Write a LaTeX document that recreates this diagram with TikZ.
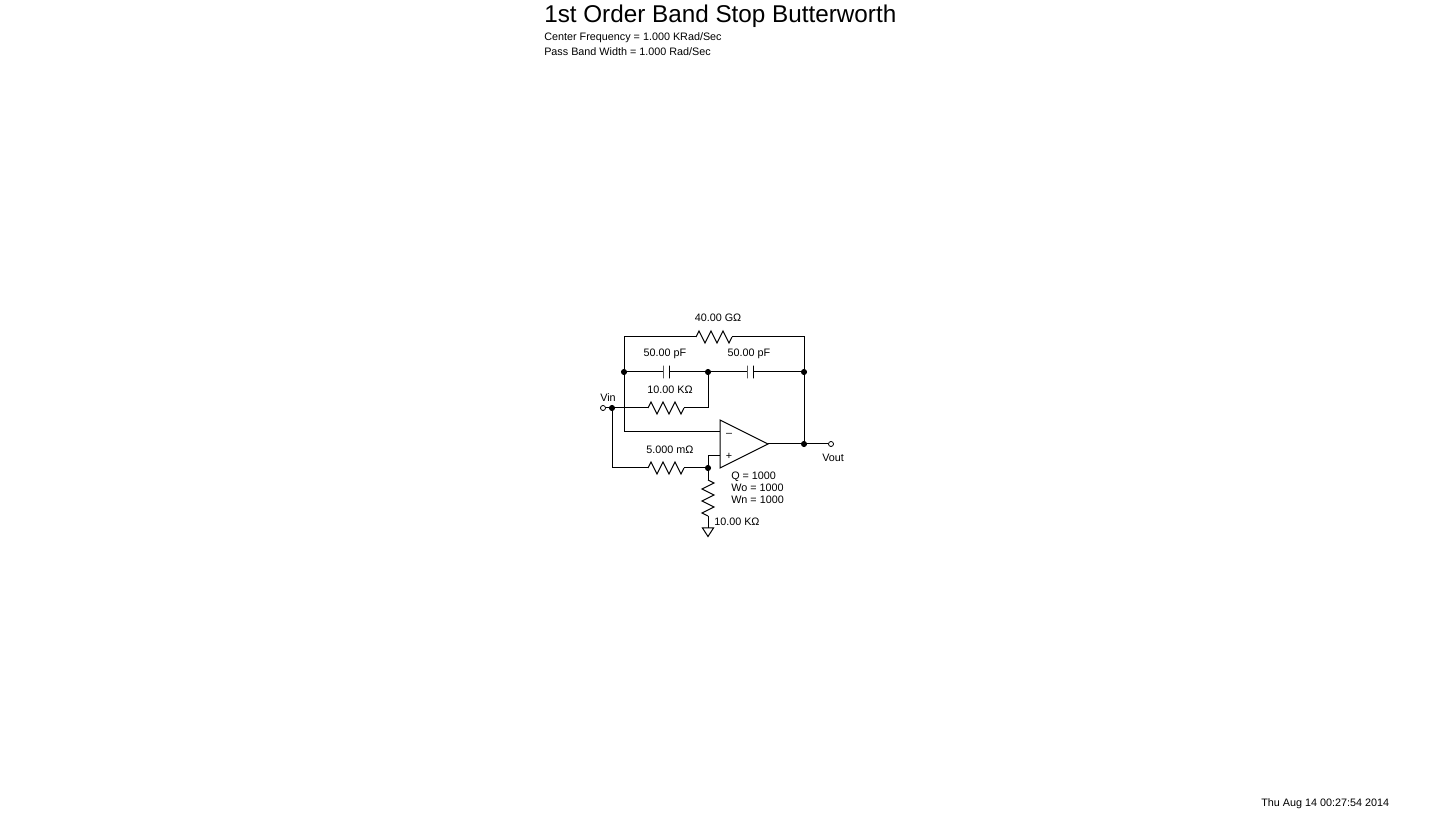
\documentclass[tikz,border=0pt]{standalone}
\usepackage{fontspec}
\setmainfont{Liberation Sans}
\usetikzlibrary{decorations.pathmorphing}
\tikzset{
    wire/.style={line width=0.75pt, line join=miter},
    resistor/.style={wire, decorate, decoration={zigzag, amplitude=4.5pt, segment length=9pt, pre length=0pt, post length=0pt}},
    junction/.style={circle, fill=black, inner sep=0pt, minimum size=4.6pt},
    terminal/.style={circle, draw, fill=white, line width=0.6pt, inner sep=0pt, minimum size=3.8pt},
    plate/.style={draw, line width=0.75pt, inner sep=0pt, outer sep=0pt, minimum width=0pt, minimum height=9.4pt},
    small/.style={inner sep=0pt, font=\fontsize{8.1pt}{10pt}\selectfont},
    smallleft/.style={small, anchor=west},
    heading/.style={inner sep=0pt, anchor=west, font=\fontsize{18.2pt}{20pt}\selectfont}
}
\begin{document}
\begin{tikzpicture}[x=0.75pt,y=-0.75pt]
    \useasboundingbox (0,0) rectangle (1440,816);

    \node[heading] (title) at (544,16) {1st Order Band Stop Butterworth};
    \node[smallleft] (center) at (544,38) {Center Frequency = 1.000 KRad/Sec};
    \node[smallleft] (passband) at (544,52) {Pass Band Width = 1.000 Rad/Sec};
    \node[smallleft] (stamp) at (1261,804) {Thu Aug 14 00:27:54 2014};

    \node[junction] (nleft) at (624,372) {};
    \node[junction] (nmid) at (708,372) {};
    \node[junction] (nright) at (804,372) {};
    \node[junction] (nin) at (612,408) {};
    \node[junction] (nplus) at (708,468) {};
    \node[junction] (nout) at (804,444) {};
    \node[terminal] (vin) at (603,408) {};
    \node[terminal] (vout) at (831,444) {};

    \coordinate (topleft) at (624,337);
    \coordinate (topright) at (804,337);
    \coordinate (rfbL) at (696,337);
    \coordinate (rfbR) at (732,337);
    \coordinate (rinL) at (648,408);
    \coordinate (rinR) at (684,408);
    \coordinate (rinend) at (708,408);
    \coordinate (rposL) at (648,468);
    \coordinate (rposR) at (684,468);
    \coordinate (lowleft) at (612,468);
    \coordinate (rgndT) at (708,480);
    \coordinate (rgndB) at (708,516);
    \coordinate (gnd) at (708,528);
    \coordinate (gndL) at (702.5,528);
    \coordinate (gndR) at (713.5,528);
    \coordinate (gndT) at (708,536.5);
    \coordinate (oaTop) at (720,420);
    \coordinate (oaBot) at (720,468);
    \coordinate (oaOut) at (768,444);
    \coordinate (oaMinus) at (720,432);
    \coordinate (oaPlus) at (720,456);
    \coordinate (minusL) at (624,432);
    \coordinate (plusL) at (708,456);

    \node[plate] (capAL) at (663,372) {};
    \node[plate] (capAR) at (669.5,372) {};
    \node[plate] (capBL) at (747,372) {};
    \node[plate] (capBR) at (753.5,372) {};

    \draw[wire] (rfbL) -- (topleft) -- (minusL) -- (oaMinus);
    \draw[resistor] (rfbL) -- (rfbR);
    \draw[wire] (rfbR) -- (topright) -- (nout);
    \draw[wire] (nleft) -- (capAL);
    \draw[wire] (capAR) -- (nmid) -- (capBL);
    \draw[wire] (capBR) -- (nright);
    \draw[wire] (vin) -- (rinL);
    \draw[resistor] (rinL) -- (rinR);
    \draw[wire] (rinR) -- (rinend) -- (nmid);
    \draw[wire] (nin) -- (lowleft) -- (rposL);
    \draw[resistor] (rposL) -- (rposR);
    \draw[wire] (rposR) -- (nplus);
    \draw[wire] (oaPlus) -- (plusL) -- (nplus) -- (rgndT);
    \draw[resistor] (rgndT) -- (rgndB);
    \draw[wire] (rgndB) -- (gnd);
    \draw[wire] (gndL) -- (gndR) -- (gndT) -- cycle;
    \draw[wire] (oaTop) -- (oaOut) -- (oaBot) -- cycle;
    \draw[wire] (oaOut) -- (vout);

    \node[small] (lblrfb) at (718,318) {40.00 GΩ};
    \node[small] (lblcapA) at (665,354) {50.00 pF};
    \node[small] (lblcapB) at (749,354) {50.00 pF};
    \node[small] (lblrin) at (670,390) {10.00 KΩ};
    \node[small] (lblrpos) at (670,450) {5.000 mΩ};
    \node[smallleft] (lblrgnd) at (714,522) {10.00 KΩ};
    \node[smallleft] (lblvin) at (600,398) {Vin};
    \node[smallleft] (lblvout) at (822,458) {Vout};
    \node[small] (oaminus) at (729,435) {–};
    \node[small] (oaplus) at (729,456) {+};
    \node[smallleft] (lblq) at (731,477) {Q = 1000};
    \node[smallleft] (lblwo) at (731,488) {Wo = 1000};
    \node[smallleft] (lblwn) at (731,500) {Wn = 1000};
\end{tikzpicture}
\end{document}
